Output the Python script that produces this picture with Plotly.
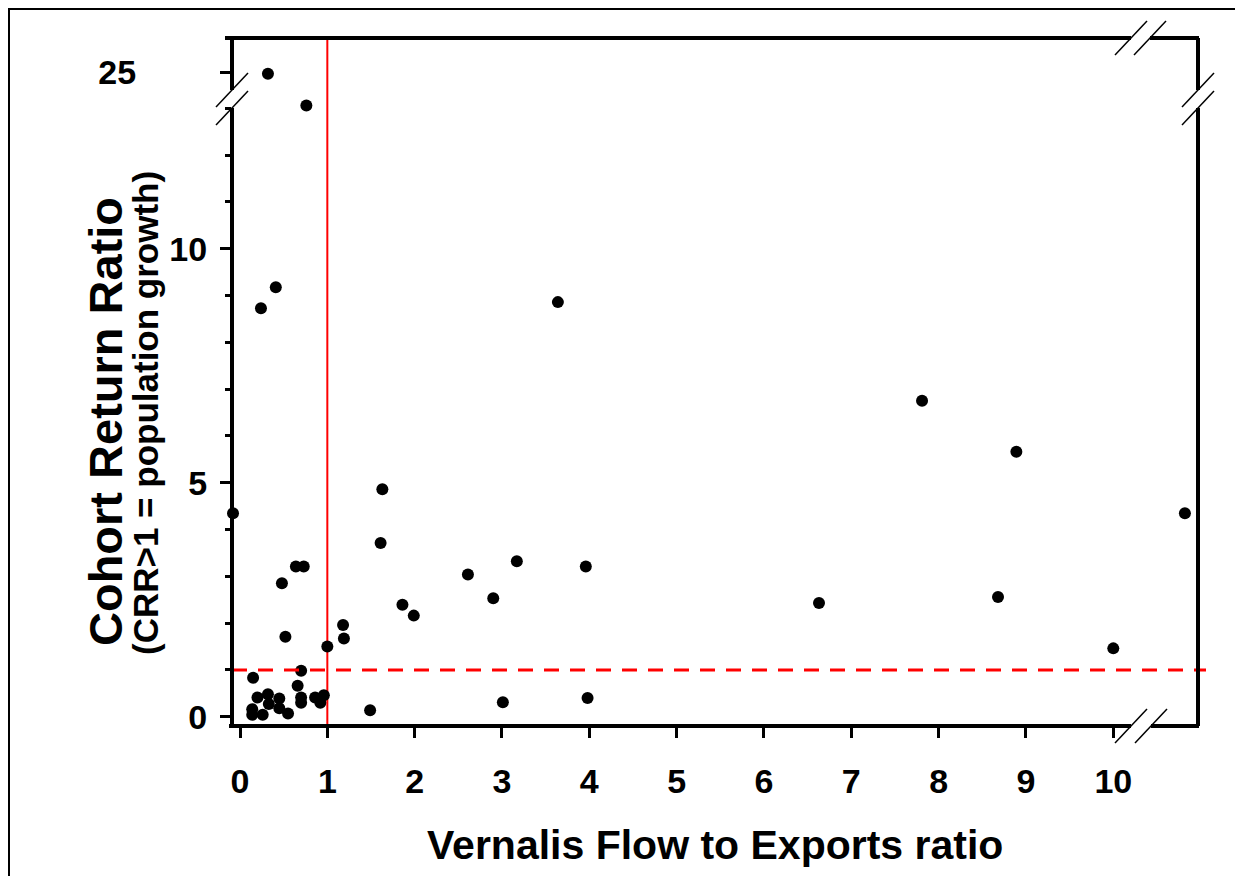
import plotly.graph_objects as go

# ---- data ----
x_low = [0.41, 0.24, 3.64, 7.81, 8.89, 1.63, -0.08, 10.82, 1.61, 3.17, 0.64, 0.73,
         3.96, 2.61, 0.48, 2.90, 1.86, 1.99, 6.63, 8.68, 10.0, 1.18, 1.19, 1.00,
         0.52, 0.15, 0.70, 0.66, 0.70, 0.70, 0.20, 0.32, 0.33, 0.45, 0.45, 0.55,
         0.14, 0.14, 0.26, 0.86, 0.92, 0.96, 1.49, 3.01, 3.98]
y_low = [9.18, 8.73, 8.86, 6.75, 5.66, 4.86, 4.35, 4.35, 3.71, 3.32, 3.21, 3.21,
         3.21, 3.04, 2.85, 2.53, 2.39, 2.16, 2.43, 2.56, 1.46, 1.96, 1.67, 1.50,
         1.71, 0.83, 0.98, 0.66, 0.41, 0.30, 0.41, 0.48, 0.27, 0.39, 0.18, 0.07,
         0.16, 0.04, 0.04, 0.41, 0.30, 0.46, 0.14, 0.31, 0.40]
x_high = [0.32, 0.76]
y_high = [24.97, 24.29]

x_ticks = list(range(0, 11))
y_low_ticks = [0, 5, 10]
y_high_ticks = [25]
crr_threshold = 1.0
ratio_threshold = 1.0

# ---- geometry (page pixels; the page body adds an 8px offset) ----
OFF = 8
W, H = 1243 - OFF, 876 - OFF
L, R, T, B = 232, 1198, 38, 726          # plot area in page pixels
BRK_Y = 107                              # bottom of the y break
pw, ph = R - L, B - T

def px(x):
    return (x - L) / pw

def py(y):
    return (B - y) / ph

low_top = py(BRK_Y)
FONT = "Liberation Sans, Arial, sans-serif"

fig = go.Figure()
marker = dict(color="black", size=12, line=dict(width=0))
fig.add_trace(go.Scatter(x=x_low, y=y_low, mode="markers", marker=marker,
                         cliponaxis=False, xaxis="x", yaxis="y", showlegend=False))
fig.add_trace(go.Scatter(x=x_high, y=y_high, mode="markers", marker=marker,
                         cliponaxis=False, xaxis="x", yaxis="y2", showlegend=False))

tickfont = dict(family=FONT, size=34, color="black", weight="bold")

fig.update_layout(
    width=W, height=H,
    margin=dict(l=L - OFF, r=W + OFF - R, t=T - OFF, b=H + OFF - B, pad=0),
    paper_bgcolor="white", plot_bgcolor="white",
    xaxis=dict(domain=[0, 1], range=[-0.0916, 10.97], tickvals=x_ticks,
               ticks="outside", ticklen=11, tickwidth=3, tickcolor="black",
               showgrid=False, zeroline=False, showline=False,
               tickfont=tickfont, ticklabelstandoff=14, anchor="y"),
    yaxis=dict(domain=[0, low_top], range=[-0.199, 13.03], tickvals=y_low_ticks,
               ticks="outside", ticklen=11, tickwidth=3, tickcolor="black",
               minor=dict(tickvals=[v for v in range(1, 14) if v % 5],
                          ticks="outside", ticklen=6, tickwidth=3, tickcolor="black"),
               showgrid=False, zeroline=False, showline=False,
               tickfont=tickfont, ticklabelstandoff=6, anchor="x"),
    yaxis2=dict(domain=[low_top, 1], range=[24.259, 25.733], tickvals=y_high_ticks,
                ticks="outside", ticklen=11, tickwidth=3, tickcolor="black",
                showgrid=False, zeroline=False, showline=False,
                tickfont=tickfont, ticklabelstandoff=77, anchor="x"),
)

shapes = []
# reference lines (data coordinates)
shapes.append(dict(type="line", xref="x", yref="paper", x0=ratio_threshold, x1=ratio_threshold,
                   y0=0, y1=1, line=dict(color="#ff0000", width=2), layer="below"))
shapes.append(dict(type="line", xref="paper", yref="y", x0=0, x1=px(1206),
                   y0=crr_threshold, y1=crr_threshold,
                   line=dict(color="#ff0000", width=3, dash="15px,11px"), layer="above"))

# axis frame with breaks (paper coordinates)
ax = dict(color="black", width=4)
segs = [
    ((L, T), (L, 90)), ((L, 108), (L, B + 2)),
    ((R, T), (R, 90)), ((R, 108), (R, B)),
    ((225, T), (1131, T)), ((1150, T), (R + 1, T)),
    ((L - 3, B), (1131, B)), ((1151, B), (R + 1, B)),
]
for (x0, y0), (x1, y1) in segs:
    shapes.append(dict(type="line", xref="paper", yref="paper",
                       x0=px(x0), y0=py(y0), x1=px(x1), y1=py(y1), line=ax))
# break slashes
sl = dict(color="black", width=1.5)
for cx, cy in [(L, 90), (L, 108), (R, 90), (R, 108),
               (1131, T), (1150, T), (1131, B), (1151, B)]:
    shapes.append(dict(type="line", xref="paper", yref="paper",
                       x0=px(cx - 16), y0=py(cy + 17), x1=px(cx + 16), y1=py(cy - 17), line=sl))
# outer frame
shapes.append(dict(type="rect", xref="paper", yref="paper",
                   x0=px(9), y0=py(9), x1=px(1260), y1=py(900),
                   line=dict(color="black", width=2)))
fig.update_layout(shapes=shapes)

fig.add_annotation(text="Vernalis Flow to Exports ratio", xref="paper", yref="paper",
                   x=px(715), y=py(845), showarrow=False, xanchor="center", yanchor="middle",
                   font=dict(family=FONT, size=41, color="black", weight="bold"))
fig.add_annotation(text="Cohort Return Ratio", xref="paper", yref="paper",
                   x=px(105), y=py(422), showarrow=False, textangle=-90,
                   xanchor="center", yanchor="middle",
                   font=dict(family=FONT, size=47, color="black", weight="bold"))
fig.add_annotation(text="(CRR>1 = population growth)", xref="paper", yref="paper",
                   x=px(145), y=py(413), showarrow=False, textangle=-90,
                   xanchor="center", yanchor="middle",
                   font=dict(family=FONT, size=35, color="black", weight="bold"))

fig.write_html("out.html")
